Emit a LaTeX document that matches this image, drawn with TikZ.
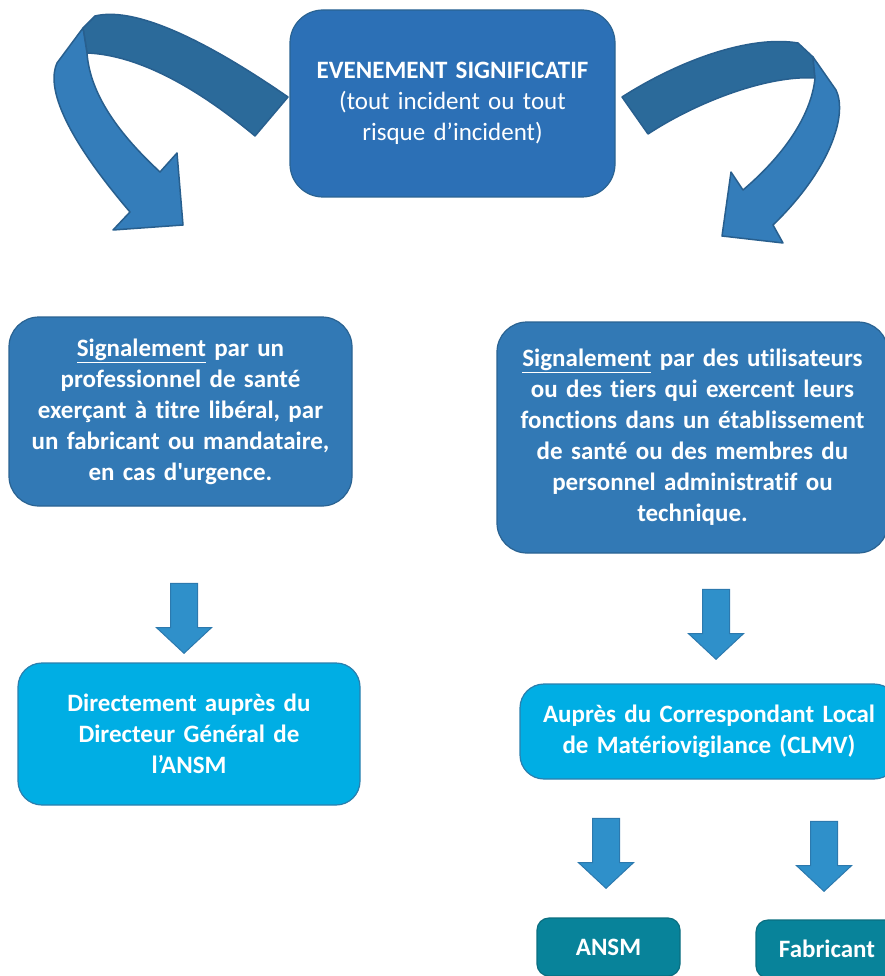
\documentclass[tikz,border=0pt]{standalone}
\usepackage{fontspec}
\setmainfont{Carlito}[RawFeature={-liga;-clig;-calt;-dlig}]
\usetikzlibrary{shapes.arrows, positioning}

\definecolor{evtblue}{HTML}{2C70B6}
\definecolor{sigblue}{HTML}{3279B5}
\definecolor{boxline}{HTML}{2A6392}
\definecolor{cyanbox}{HTML}{00AEE4}
\definecolor{cyanline}{HTML}{2A7FAE}
\definecolor{tealbox}{HTML}{08839A}
\definecolor{tealline}{HTML}{0B6E80}
\definecolor{banddark}{HTML}{2B6A9A}
\definecolor{bandlight}{HTML}{347DBA}
\definecolor{bandline}{HTML}{285F8E}
\definecolor{downblue}{HTML}{2F90CA}
\definecolor{downline}{HTML}{2C79AE}

\begin{document}
\begin{tikzpicture}[x=1pt, y=-1pt,
  box/.style={rectangle, draw=boxline, line width=1.2pt, text=white, align=center, inner sep=0pt, font=\fontsize{25}{31}\selectfont\bfseries},
  sigbox/.style={box, fill=sigblue, rounded corners=30pt},
  cyanbox/.style={box, fill=cyanbox, draw=cyanline, rounded corners=24pt},
  tealbox/.style={box, fill=tealbox, draw=tealline, rounded corners=12pt},
  downarrow/.style={single arrow, draw=downline, fill=downblue, line width=1pt, shape border rotate=270, inner sep=13pt, minimum width=0pt, minimum height=70pt, single arrow head extend=14pt, single arrow tip angle=94},
  bandtop/.style={fill=banddark, draw=bandline, line width=1.5pt, line join=round},
  bandlow/.style={fill=bandlight, draw=bandline, line width=1.5pt, line join=round}]
  \useasboundingbox (0,0) rectangle (885,976);
  % top event
  \node[box, fill=evtblue, rounded corners=33pt, text width=325pt, minimum height=187pt] (event) at (452.5,103.5)
    {EVENEMENT SIGNIFICATIF\\\mdseries(tout incident ou tout\\\mdseries risque d’incident)};
  % curved arrow, left
  \draw[bandtop] (288,97) .. controls (220,50) and (140,5) .. (95,16) -- (83,28) -- (87,53)
    .. controls (140,55) and (200,90) .. (255,136) -- cycle;
  \draw[bandlow] (83,28) -- (57,63) .. controls (47,85) and (60,130) .. (130,212)
    -- (113,230) -- (183,225) -- (177,153) -- (160,172)
    .. controls (120,135) and (90,95) .. (87,53) -- cycle;
  % curved arrow, right
  \draw[bandtop] (622,97) .. controls (680,60) and (750,35) .. (798,43) -- (813,57) -- (815,78)
    .. controls (770,75) and (700,100) .. (648,134) -- cycle;
  \draw[bandlow] (813,57) -- (836,90) .. controls (848,115) and (830,170) .. (773,225)
    -- (783,243) -- (722,236) -- (731,172) -- (743,190)
    .. controls (790,150) and (812,110) .. (815,78) -- cycle;
  % signalement
  \node[sigbox, text width=343pt, minimum height=189pt] (sigLib) at (180.5,411.5)
    {\underline{Signalement} par un\\professionnel de santé\\exerçant à titre libéral, par\\un fabricant ou mandataire,\\en cas d\textquotesingle urgence.};
  \node[sigbox, text width=391pt, minimum height=231pt] (sigEts) at (692.5,437.5)
    {\underline{Signalement} par des utilisateurs\\ou des tiers qui exercent leurs\\fonctions dans un établissement\\de santé ou des membres du\\personnel administratif ou\\technique.};
  % destinataires
  \node[cyanbox, text width=342pt, minimum height=142pt] (direct) at (189,734)
    {Directement auprès du\\Directeur Général de\\l’ANSM};
  \node[cyanbox, text width=378pt, minimum height=95pt] (clmv) at (709,731.5)
    {Auprès du Correspondant Local\\de Matériovigilance (CLMV)};
  \node[tealbox, text width=143pt, minimum height=58pt] (ansm) at (608.5,947) {ANSM};
  \node[tealbox, text width=142pt, minimum height=58pt] (fabricant) at (827,949) {Fabricant};
  % block arrows
  \node[downarrow] (a1) at (184,612) {};
  \node[downarrow] (a2) at (716,618) {};
  \node[downarrow] (a3) at (606,847) {};
  \node[downarrow] (a4) at (824,850) {};
\end{tikzpicture}
\end{document}
